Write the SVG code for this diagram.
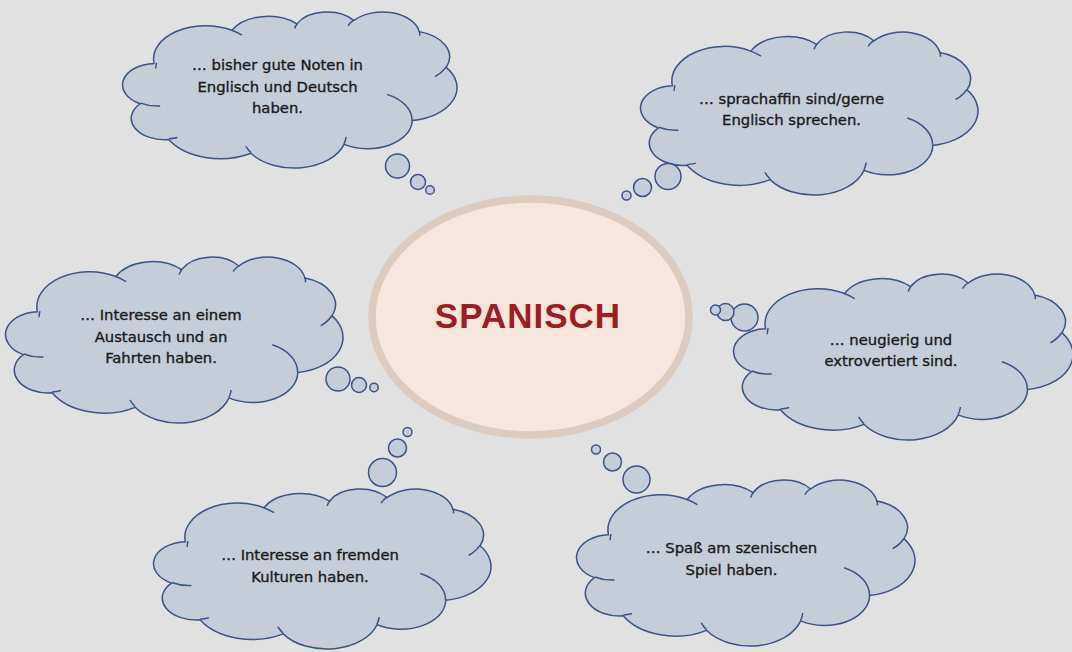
<svg xmlns="http://www.w3.org/2000/svg" xmlns:xlink="http://www.w3.org/1999/xlink" width="1072" height="652" viewBox="0 0 1072 652">
<style>
.bg{fill:#e1e1e1}
.cl{fill:#c5cdd9;stroke:#3c5385;stroke-width:1.5}
.cd{fill:none;stroke:#3c5385;stroke-width:1.5}
.bub{fill:#c5cdd9;stroke:#3c5385;stroke-width:1.5}
.t{font-family:"DejaVu Sans","Noto Sans",sans-serif;font-size:14.8px;fill:#1a1a1a;stroke:#1a1a1a;stroke-width:0.35;text-anchor:middle}
.core{fill:#f6e6dc;stroke:#dccbbf;stroke-width:7.5}
.title{font-family:"Liberation Sans",Arial,sans-serif;font-weight:bold;font-size:35px;fill:#a01c21;text-anchor:middle;letter-spacing:1px}
</style>
<defs>
<g id="cloud">
<path class="cl" vector-effect="non-scaling-stroke" d="M3900,14370 A6753,9190 0 0 1 14004,5201 A5333,7267 0 0 1 22456,3430 A4365,5945 0 0 1 29833,2480 A4857,6595 0 0 1 38318,5575 A5333,7273 0 0 1 41819,15459 A6775,9220 0 0 1 37403,30200 A5785,7867 0 0 1 28556,36811 A6752,9215 0 0 1 16482,39266 A7720,10543 0 0 1 5806,35474 A4360,5918 0 0 1 2113,25554 A4345,5945 0 0 1 3900,14370 Z"/>
<path class="cd" vector-effect="non-scaling-stroke" d="M4693,26177 A4345,5945 0 0 1 2159,25379 M6928,34899 A4360,5918 0 0 1 5819,35281 M16478,39090 A6752,9215 0 0 1 15808,37346 M28827,34751 A6752,9215 0 0 1 28560,36659 M34129,22954 A5785,7867 0 0 1 37380,30090 M41798,15354 A5333,7273 0 0 1 40350,18030 M38324,5426 A4857,6595 0 0 1 38400,6689 M29078,3952 A4857,6595 0 0 1 29820,2339 M22141,4720 A4365,5945 0 0 1 22500,3330 M14000,5192 A6753,9190 0 0 1 15302,6542 M4127,15789 A6753,9190 0 0 1 4236,14211"/>
</g>
</defs>
<rect class="bg" x="0" y="0" width="1072" height="652"/>

<g id="center">
<ellipse class="core" cx="530.5" cy="317" rx="158.5" ry="118"/>
<text class="title" x="528" y="328">SPANISCH</text>
</g>

<g id="cloud-noten">
<use xlink:href="#cloud" href="#cloud" transform="translate(124,11.5) scale(0.007705,0.00361)"/>
<circle class="bub" cx="397.5" cy="166" r="12"/>
<circle class="bub" cx="418" cy="182" r="7.5"/>
<circle class="bub" cx="430" cy="190" r="4.3"/>
<text class="t" x="277.5" y="70">… bisher gute Noten in</text>
<text class="t" x="277.5" y="91.5">Englisch und Deutsch</text>
<text class="t" x="277.5" y="113">haben.</text>
</g>

<g id="cloud-sprachaffin">
<use xlink:href="#cloud" href="#cloud" transform="translate(642,31.5) scale(0.007774,0.003772)"/>
<circle class="bub" cx="668" cy="176.5" r="13"/>
<circle class="bub" cx="642.5" cy="187.5" r="9"/>
<circle class="bub" cx="626.5" cy="195.5" r="4.5"/>
<text class="t" x="791.5" y="103.5">… sprachaffin sind/gerne</text>
<text class="t" x="791.5" y="125">Englisch sprechen.</text>
</g>

<g id="cloud-austausch">
<use xlink:href="#cloud" href="#cloud" transform="translate(7,256.5) scale(0.007774,0.003841)"/>
<circle class="bub" cx="338" cy="379" r="12"/>
<circle class="bub" cx="359" cy="385" r="7.5"/>
<circle class="bub" cx="374" cy="387.5" r="4.2"/>
<text class="t" x="161" y="320">… Interesse an einem</text>
<text class="t" x="161" y="341.5">Austausch und an</text>
<text class="t" x="161" y="363">Fahrten haben.</text>
</g>

<g id="cloud-neugierig">
<use xlink:href="#cloud" href="#cloud" transform="translate(735,273.5) scale(0.00782,0.003841)"/>
<circle class="bub" cx="744.5" cy="317.5" r="13.5"/>
<circle class="bub" cx="725.5" cy="312" r="8.5"/>
<circle class="bub" cx="715.5" cy="310" r="5"/>
<text class="t" x="891" y="344.5">… neugierig und</text>
<text class="t" x="891" y="366">extrovertiert sind.</text>
</g>

<g id="cloud-kulturen">
<use xlink:href="#cloud" href="#cloud" transform="translate(155,488.5) scale(0.007774,0.003702)"/>
<circle class="bub" cx="382.5" cy="472.5" r="14"/>
<circle class="bub" cx="397.5" cy="448" r="9"/>
<circle class="bub" cx="407.5" cy="432" r="4.5"/>
<text class="t" x="310" y="560">… Interesse an fremden</text>
<text class="t" x="310" y="582">Kulturen haben.</text>
</g>

<g id="cloud-spiel">
<use xlink:href="#cloud" href="#cloud" transform="translate(578,479.5) scale(0.007797,0.003841)"/>
<circle class="bub" cx="636.5" cy="479.5" r="13.5"/>
<circle class="bub" cx="612.5" cy="462" r="9"/>
<circle class="bub" cx="596" cy="449.5" r="4.5"/>
<text class="t" x="731.5" y="553">… Spaß am szenischen</text>
<text class="t" x="731.5" y="574.5">Spiel haben.</text>
</g>
</svg>
